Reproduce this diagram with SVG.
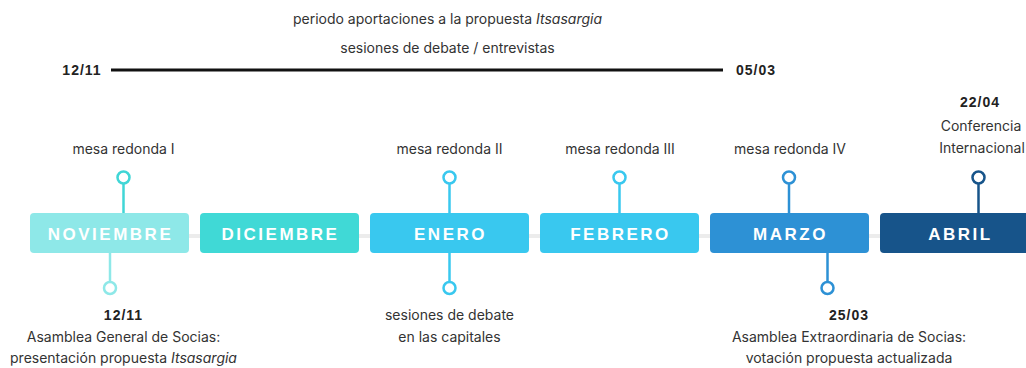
<svg xmlns="http://www.w3.org/2000/svg" width="1026" height="368" viewBox="0 0 1026 368">
<style>
.t{font-family:Inter,"Liberation Sans",sans-serif;font-size:14px;fill:#333;text-anchor:middle}
.b{font-family:"Liberation Sans",Arial,sans-serif;font-size:14px;font-weight:bold;fill:#222;text-anchor:middle;letter-spacing:1px}
.m{font-family:"Liberation Sans",Arial,sans-serif;font-size:17px;font-weight:bold;fill:#fff;text-anchor:middle;letter-spacing:2.5px}
.c{fill:#fff;stroke-width:2.5}
.s{stroke-width:2.5;fill:none}
</style>
<rect width="1026" height="368" fill="#fff"/>
<g id="period">
<text class="t" x="447.5" y="24">periodo aportaciones a la propuesta <tspan font-style="italic">Itsasargia</tspan></text>
<text class="t" x="447.5" y="53">sesiones de debate / entrevistas</text>
<line x1="111" y1="70" x2="723" y2="70" stroke="#111" stroke-width="3"/>
<text class="b" x="82" y="75">12/11</text>
<text class="b" x="756" y="75">05/03</text>
</g>
<g id="connectors">
<line x1="30" y1="236" x2="1026" y2="236" stroke="#ececec" stroke-width="4"/>
<line class="s" x1="123.5" y1="184" x2="123.5" y2="213" stroke="#40d6d6"/>
<line class="s" x1="110" y1="253" x2="110" y2="281" stroke="#8ee8e8"/>
<line class="s" x1="449.5" y1="184" x2="449.5" y2="213" stroke="#39c8ef"/>
<line class="s" x1="449.5" y1="253" x2="449.5" y2="281" stroke="#39c8ef"/>
<line class="s" x1="619.5" y1="184" x2="619.5" y2="213" stroke="#39c8ef"/>
<line class="s" x1="789" y1="184" x2="789" y2="213" stroke="#2d91d5"/>
<line class="s" x1="827.5" y1="253" x2="827.5" y2="281" stroke="#2d91d5"/>
<line class="s" x1="978.5" y1="184" x2="978.5" y2="213" stroke="#17548a"/>
<circle class="c" cx="123.5" cy="177.5" r="6" stroke="#40d6d6"/>
<circle class="c" cx="110" cy="288" r="6" stroke="#8ee8e8"/>
<circle class="c" cx="449.5" cy="177.5" r="6" stroke="#39c8ef"/>
<circle class="c" cx="449.5" cy="288" r="6" stroke="#39c8ef"/>
<circle class="c" cx="619.5" cy="177.5" r="6" stroke="#39c8ef"/>
<circle class="c" cx="789" cy="177.5" r="6" stroke="#2d91d5"/>
<circle class="c" cx="827.5" cy="288" r="6" stroke="#2d91d5"/>
<circle class="c" cx="978.5" cy="177.5" r="6" stroke="#17548a"/>
</g>
<g id="noviembre">
<rect x="30" y="213" width="159" height="40" rx="4" fill="#8ee8e8"/>
<text class="m" x="110.5" y="240">NOVIEMBRE</text>
</g>
<g id="diciembre">
<rect x="200" y="213" width="159" height="40" rx="4" fill="#40d9d6"/>
<text class="m" x="280.5" y="240">DICIEMBRE</text>
</g>
<g id="enero">
<rect x="370" y="213" width="159" height="40" rx="4" fill="#39c8ef"/>
<text class="m" x="450.5" y="240">ENERO</text>
</g>
<g id="febrero">
<rect x="540" y="213" width="159" height="40" rx="4" fill="#39c8ef"/>
<text class="m" x="620.5" y="240">FEBRERO</text>
</g>
<g id="marzo">
<rect x="710" y="213" width="159" height="40" rx="4" fill="#2d91d5"/>
<text class="m" x="790.5" y="240">MARZO</text>
</g>
<g id="abril">
<rect x="880" y="213" width="159" height="40" rx="4" fill="#17548a"/>
<text class="m" x="960.5" y="240">ABRIL</text>
</g>
<g id="mesa1"><text class="t" x="123.5" y="154">mesa redonda I</text></g>
<g id="mesa2"><text class="t" x="449.5" y="154">mesa redonda II</text></g>
<g id="mesa3"><text class="t" x="620" y="154">mesa redonda III</text></g>
<g id="mesa4"><text class="t" x="790" y="154">mesa redonda IV</text></g>
<g id="conferencia">
<text class="b" x="980" y="107">22/04</text>
<text class="t" x="981" y="131">Conferencia</text>
<text class="t" x="982" y="153">Internacional</text>
</g>
<g id="asamblea1">
<text class="b" x="123.5" y="320">12/11</text>
<text class="t" x="123.5" y="342">Asamblea General de Socias:</text>
<text class="t" x="123.5" y="363">presentación propuesta <tspan font-style="italic">Itsasargia</tspan></text>
</g>
<g id="sesiones">
<text class="t" x="449.5" y="320">sesiones de debate</text>
<text class="t" x="449.5" y="342">en las capitales</text>
</g>
<g id="asamblea2">
<text class="b" x="849" y="320">25/03</text>
<text class="t" x="849" y="342">Asamblea Extraordinaria de Socias:</text>
<text class="t" x="849" y="363">votación propuesta actualizada</text>
</g>
</svg>
